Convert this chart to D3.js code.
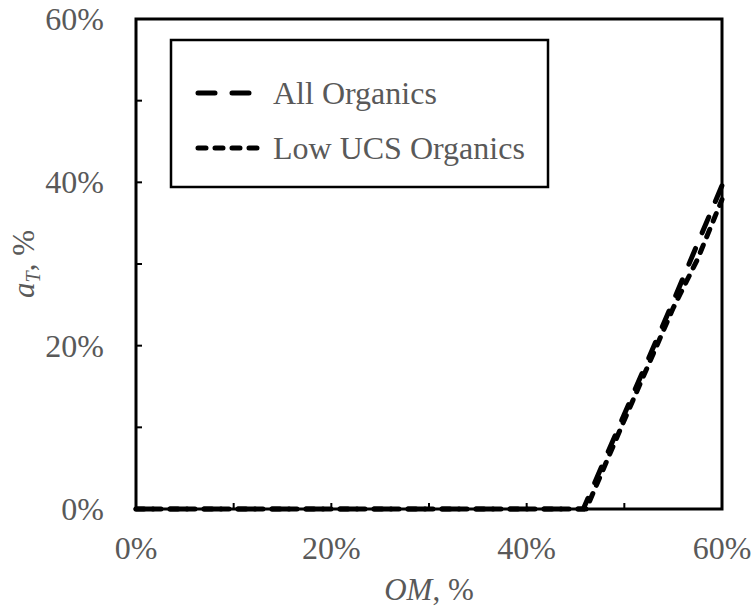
<!DOCTYPE html>
<html>
<head>
<meta charset="utf-8">
<script src="https://cdn.jsdelivr.net/npm/d3@7"></script>
<style>
  body { margin: 0; background: #fff; }
  text { font-family: "Liberation Serif", "Times New Roman", serif; fill: #595959; }
</style>
</head>
<body>
<div id="chart"></div>
<script>
const width = 751
const height = 611
const margin = {top: 19, right: 29, bottom: 102, left: 136}

// data (OM %, aT %)
const allOM = [0, 10, 20, 30, 40, 45.8, 50, 55, 60]
const allAT = [0, 0, 0, 0, 0, 0, 11.6, 25.4, 39.6]
const lowOM = [0, 10, 20, 30, 40, 46.1, 50, 55, 57.5, 60]
const lowAT = [0, 0, 0, 0, 0, 0, 10.9, 24.6, 30.6, 37.9]
const xTicks = [0, 20, 40, 60]
const yTicks = [0, 20, 40, 60]
const minorTicks = [10, 20, 30, 40, 50]

const series = [
  {name: "All Organics", x: allOM, y: allAT, dash: "17,17"},
  {name: "Low UCS Organics", x: lowOM, y: lowAT, dash: "8,9"}
]

const svg = d3.select("#chart")
              .append("svg")
              .attr("width", width)
              .attr("height", height)

const x = d3.scaleLinear().domain([0, 60]).range([margin.left, width - margin.right])
const y = d3.scaleLinear().domain([0, 60]).range([height - margin.bottom, margin.top])

// minor ticks, inward
svg.append("g")
   .selectAll("line")
   .data(minorTicks)
   .enter()
   .append("line")
   .attr("x1", d => x(d)).attr("x2", d => x(d))
   .attr("y1", y(0)).attr("y2", y(0) - 6)
   .attr("stroke", "#000").attr("stroke-width", 2)

svg.append("g")
   .selectAll("line")
   .data(minorTicks)
   .enter()
   .append("line")
   .attr("x1", x(0)).attr("x2", x(0) + 6)
   .attr("y1", d => y(d)).attr("y2", d => y(d))
   .attr("stroke", "#000").attr("stroke-width", 2)

// tick labels
svg.append("g")
   .selectAll("text")
   .data(xTicks)
   .enter()
   .append("text")
   .attr("x", d => x(d))
   .attr("y", 559)
   .attr("text-anchor", "middle")
   .style("font-size", "32px")
   .text(d => d + "%")

svg.append("g")
   .selectAll("text")
   .data(yTicks)
   .enter()
   .append("text")
   .attr("x", 104)
   .attr("y", d => y(d) + 11)
   .attr("text-anchor", "end")
   .style("font-size", "32px")
   .text(d => d + "%")

// lines
const line = d3.line()
               .x(d => x(d[0]))
               .y(d => y(d[1]))

series.forEach(s => {
  svg.append("path")
     .datum(s.x.map((v, i) => [v, s.y[i]]))
     .attr("d", line)
     .attr("fill", "none")
     .attr("stroke", "#000")
     .attr("stroke-width", 5)
     .attr("stroke-linecap", "round")
     .attr("stroke-dasharray", s.dash)
})

// plot frame
svg.append("rect")
   .attr("x", x(0))
   .attr("y", y(60))
   .attr("width", x(60) - x(0))
   .attr("height", y(0) - y(60))
   .attr("fill", "none")
   .attr("stroke", "#000")
   .attr("stroke-width", 3)

// axis titles
const xt = svg.append("text")
              .attr("x", (x(0) + x(60)) / 2)
              .attr("y", 600)
              .attr("text-anchor", "middle")
              .style("font-size", "31px")
xt.append("tspan").style("font-style", "italic").text("OM")
xt.append("tspan").text(", %")

const yt = svg.append("text")
              .attr("transform", `translate(34,${(y(0) + y(60)) / 2}) rotate(-90)`)
              .attr("text-anchor", "middle")
              .style("font-size", "31px")
yt.append("tspan").style("font-style", "italic").text("a")
yt.append("tspan").style("font-style", "italic").style("font-size", "20px").attr("dy", 6).text("T")
yt.append("tspan").attr("dy", -6).text(", %")

// legend
const legend = svg.append("g")
legend.append("rect")
      .attr("x", 171).attr("y", 40)
      .attr("width", 377).attr("height", 147)
      .attr("fill", "#fff")
      .attr("stroke", "#000")
      .attr("stroke-width", 2.5)

const legendY = [93, 148]
series.forEach((s, i) => {
  legend.append("line")
        .attr("x1", 198).attr("x2", i == 0 ? 250 : 266)
        .attr("y1", legendY[i]).attr("y2", legendY[i])
        .attr("stroke", "#000")
        .attr("stroke-width", 5)
        .attr("stroke-linecap", "round")
        .attr("stroke-dasharray", s.dash)
  legend.append("text")
        .attr("x", 273)
        .attr("y", legendY[i] + 11)
        .style("font-size", "32px")
        .text(s.name)
})
</script>
</body>
</html>
